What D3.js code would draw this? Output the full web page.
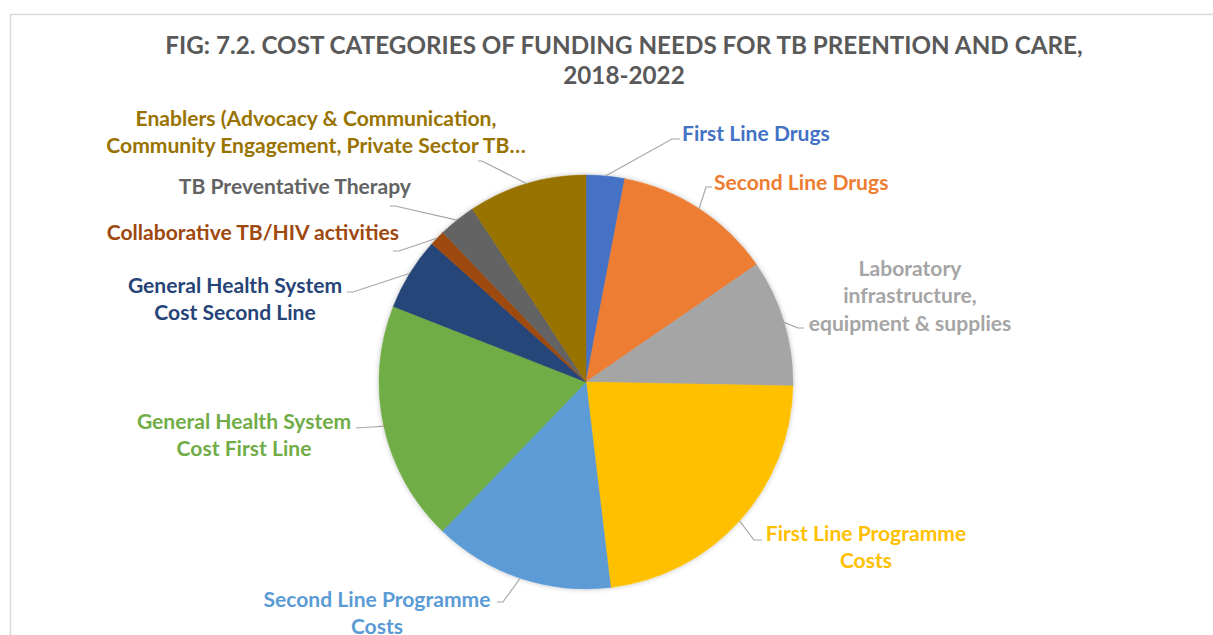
<!DOCTYPE html>
<html><head><meta charset="utf-8">
<script src="https://cdn.jsdelivr.net/npm/d3@7"></script>
<style>body{margin:0;background:#fff}</style></head><body>
<svg id="c" width="1213" height="635"></svg>
<script>
const categories = ["First Line Drugs","Second Line Drugs","Laboratory infrastructure, equipment & supplies","First Line Programme Costs","Second Line Programme Costs","General Health System Cost First Line","General Health System Cost Second Line","Collaborative TB/HIV activities","TB Preventative Therapy","Enablers (Advocacy & Communication, Community Engagement, Private Sector TB…"];
const shares = [3.0, 12.4, 9.9, 22.8, 14.1, 18.75, 5.7, 1.2, 2.9, 9.25];
const labelLines = [
  ["First Line Drugs"],
  ["Second Line Drugs"],
  ["Laboratory","infrastructure,","equipment & supplies"],
  ["First Line Programme","Costs"],
  ["Second Line Programme","Costs"],
  ["General Health System","Cost First Line"],
  ["General Health System","Cost Second Line"],
  ["Collaborative TB/HIV activities"],
  ["TB Preventative Therapy"],
  ["Enablers (Advocacy & Communication,","Community Engagement, Private Sector TB…"]
];
const titleLines = ["FIG: 7.2. COST CATEGORIES OF FUNDING NEEDS FOR TB PREENTION AND CARE,","2018-2022"];
const colors = ["#4472C4","#ED7D31","#A5A5A5","#FFC000","#5B9BD5","#70AD47","#264478","#9E480E","#636363","#997300"];

// layout: leader elbow, leader end, text x, first baseline, anchor
const layout = [
  {elbow:[672,139], end:[680,139], x:682, y:140.5, anchor:"start"},
  {elbow:[706,187], end:[712,187], x:714, y:189.5, anchor:"start"},
  {elbow:[798,328], end:[804,328], x:910, y:275.5, anchor:"middle"},
  {elbow:[754,540], end:[762,540], x:866, y:540.5, anchor:"middle"},
  {elbow:[503,602], end:[497,602], x:377, y:606.5, anchor:"middle"},
  {elbow:[372,427], end:[356,428], x:244, y:428.5, anchor:"middle"},
  {elbow:[353,292], end:[347,292], x:235, y:292.5, anchor:"middle"},
  {elbow:[399,251], end:[393,251], x:399, y:239.5, anchor:"end"},
  {elbow:[395,206], end:[390,206], x:411, y:193.5, anchor:"end"},
  {elbow:[482,161], end:[478,161], x:316, y:125.5, anchor:"middle"}
];

const W = 1213, H = 635, cx = 586, cy = 382, R = 207;
const svg = d3.select("#c");
const FONT = "Lato, 'Open Sans', sans-serif";

// frame
svg.append("path").attr("d", `M10.5,${H} L10.5,14.5 L${W},14.5`).attr("fill","none").attr("stroke","#D9D9D9").attr("stroke-width",1.5);

const defs = svg.append("defs");
const f = defs.append("filter").attr("id","sh").attr("x","-10%").attr("y","-10%").attr("width","120%").attr("height","120%");
f.append("feDropShadow").attr("dx",0).attr("dy",0).attr("stdDeviation",2.5).attr("flood-color","#000").attr("flood-opacity",0.25);

// title
const title = svg.append("g").attr("font-family", FONT).attr("font-weight","bold").attr("fill","#595959").attr("text-anchor","middle");
const t1 = title.append("text").attr("x",624).attr("y",54).attr("font-size",22).text(titleLines[0]);
let w = t1.node().getComputedTextLength();
const tSize = 22 * 918 / w;
t1.attr("font-size", tSize);
title.append("text").attr("x",624).attr("y",84).attr("font-size",tSize).text(titleLines[1]);

// pie
const pie = d3.pie().sort(null).value(d => d)(shares);
const arc = d3.arc().innerRadius(0).outerRadius(R);
const edge = d3.arc().innerRadius(R).outerRadius(R);
const g = svg.append("g").attr("transform",`translate(${cx},${cy})`);
g.append("g").attr("filter","url(#sh)").selectAll("path").data(pie).join("path")
  .attr("d", arc).attr("fill",(d,i)=>colors[i]).attr("stroke",(d,i)=>colors[i]).attr("stroke-width",0.5);

// label font size calibration
const probe = svg.append("text").attr("font-family",FONT).attr("font-weight","bold").attr("font-size",18).text("First Line Drugs");
const lSize = 18 * 148 / probe.node().getComputedTextLength();
probe.remove();

// leaders
const leaders = svg.append("g").attr("fill","none").attr("stroke","#A6A6A6").attr("stroke-width",1.2);
pie.forEach((d,i) => {
  const p = edge.centroid(d);
  const L = layout[i];
  leaders.append("polyline").attr("points", [[p[0]+cx,p[1]+cy], L.elbow, L.end].map(q=>q.join(",")).join(" "));
});

// labels
const labels = svg.append("g").attr("font-family",FONT).attr("font-weight","bold").attr("font-size",lSize);
labelLines.forEach((lines,i) => {
  const L = layout[i];
  const t = labels.append("text").attr("text-anchor",L.anchor).attr("fill",colors[i]);
  lines.forEach((s,j) => t.append("tspan").attr("x",L.x).attr("y",L.y + j*27.5).text(s));
});
</script></body></html>
